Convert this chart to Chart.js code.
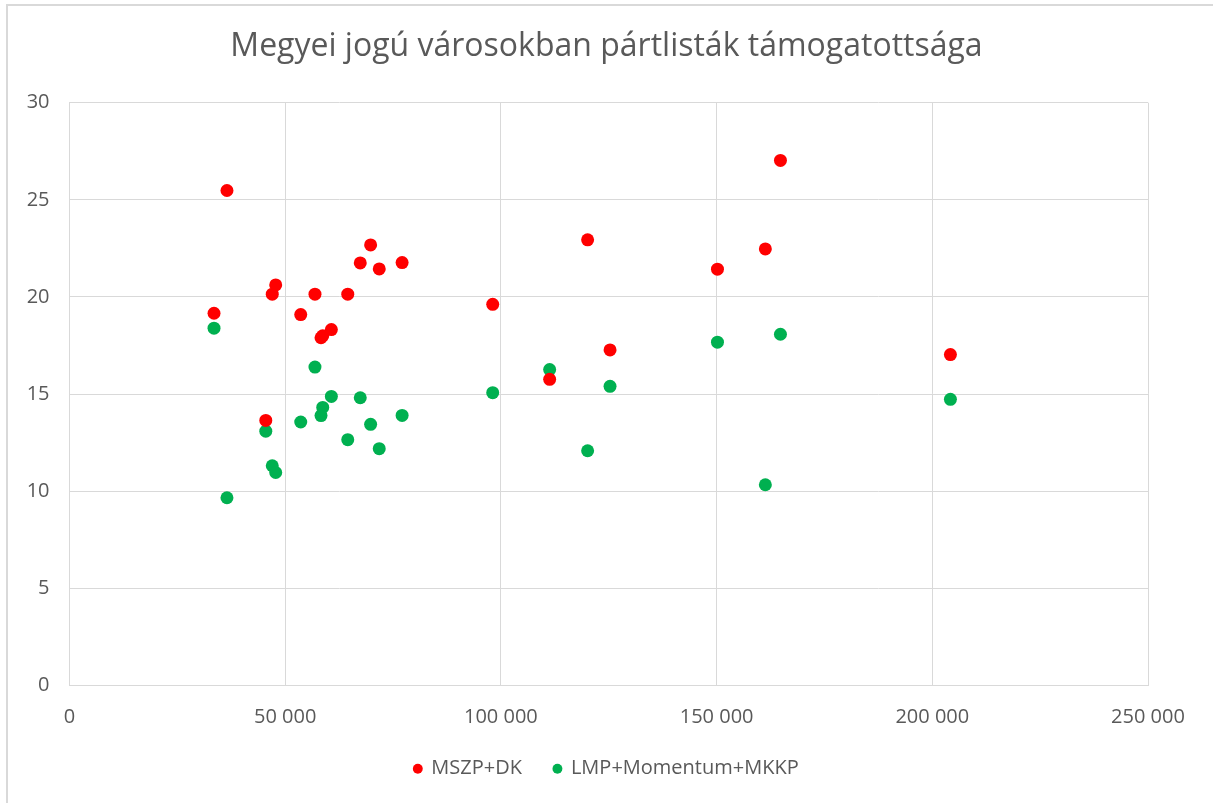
<!DOCTYPE html>
<html>
<head>
<meta charset="utf-8">
<script src="https://cdn.jsdelivr.net/npm/chart.js@4/dist/chart.umd.min.js"></script>
<style>
  html, body { margin: 0; padding: 0; background: #ffffff; }
  #wrap { position: relative; width: 1213px; height: 803px; overflow: hidden; }
  #frame { position: absolute; left: 6px; top: 4px; width: 1300px; height: 900px;
           border-left: 2px solid #d9d9d9; border-top: 2px solid #d9d9d9; box-sizing: border-box; }
  canvas { position: absolute; left: 0; top: 0; }
</style>
</head>
<body>
<div id="wrap">
  <div id="frame"></div>
  <canvas id="c" width="1213" height="803"></canvas>
</div>
<script>
// Population of the county-rank cities (x values)
const population = [33500, 36500, 45500, 47000, 47800, 53600, 56900, 58300, 58700, 60700, 64500, 67400, 69800, 71800, 77100, 98100, 111300, 120100, 125300, 150200, 161300, 164800, 204200];
// Support (%) of MSZP+DK
const mszpDk = [19.16, 25.48, 13.64, 20.14, 20.62, 19.09, 20.14, 17.90, 18.00, 18.32, 20.14, 21.75, 22.68, 21.44, 21.77, 19.62, 15.76, 22.94, 17.27, 21.43, 22.47, 27.03, 17.03];
// Support (%) of LMP+Momentum+MKKP
const lmpMomentumMkkp = [18.39, 9.66, 13.09, 11.31, 10.96, 13.56, 16.39, 13.89, 14.31, 14.88, 12.65, 14.81, 13.44, 12.19, 13.90, 15.07, 16.26, 12.08, 15.40, 17.67, 10.33, 18.08, 14.73];

const seriesNames = ['MSZP+DK', 'LMP+Momentum+MKKP'];
const titleText = 'Megyei jogú városokban pártlisták támogatottsága';

const textColor = '#595959';
const gridColor = '#d9d9d9';
const fontFamily = '"Open Sans", "Noto Sans", sans-serif';

function toPoints(xs, ys) { return xs.map((x, i) => ({ x: x, y: ys[i] })); }

function fmt(v) {
  return String(v).replace(/\B(?=(\d{3})+(?!\d))/g, ' ');
}

new Chart(document.getElementById('c'), {
  type: 'scatter',
  data: {
    datasets: [
      { label: seriesNames[0], data: toPoints(population, mszpDk),
        backgroundColor: '#ff0000', borderColor: '#ff0000', borderWidth: 0, pointRadius: 6.5, pointHoverRadius: 6.5 },
      { label: seriesNames[1], data: toPoints(population, lmpMomentumMkkp),
        backgroundColor: '#00b050', borderColor: '#00b050', borderWidth: 0, pointRadius: 6.5, pointHoverRadius: 6.5 }
    ]
  },
  options: {
    responsive: false,
    animation: false,
    events: [],
    layout: { padding: { left: 0, right: 0, top: 0, bottom: 14.3 } },
    scales: {
      x: {
        type: 'linear', min: 0, max: 250000,
        afterFit: (s) => { s.height = 41.3; },
        ticks: { stepSize: 50000, padding: 20, color: textColor, font: { family: fontFamily, size: 20 },
                 callback: (v) => fmt(v), maxRotation: 0 },
        grid: { color: gridColor, lineWidth: 1, drawTicks: false },
        border: { color: gridColor, width: 1 }
      },
      y: {
        type: 'linear', min: 0, max: 30,
        afterFit: (s) => { s.width = 69.5; },
        ticks: { stepSize: 5, padding: 20, color: textColor, font: { family: fontFamily, size: 20 } },
        grid: { color: gridColor, lineWidth: 1, drawTicks: false },
        border: { color: gridColor, width: 1 }
      },
      rightSpace: {
        type: 'linear', position: 'right', min: 0, max: 30,
        afterFit: (s) => { s.width = 65; },
        ticks: { display: false },
        grid: { display: false, drawTicks: false },
        border: { display: false }
      }
    },
    plugins: {
      title: { display: true, text: titleText, color: textColor,
               font: { family: fontFamily, size: 32, weight: 'normal' },
               padding: { top: 27.8, bottom: 36.5 } },
      legend: { display: true, position: 'bottom', maxHeight: 77,
                labels: { usePointStyle: true, pointStyle: 'circle', boxWidth: 7, boxHeight: 7,
                          padding: 32, color: textColor, font: { family: fontFamily, size: 20 } } },
      tooltip: { enabled: false }
    }
  }
});
</script>
</body>
</html>
